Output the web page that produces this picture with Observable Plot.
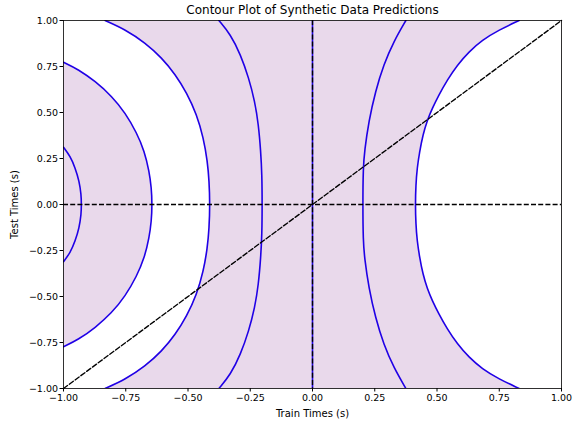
<!DOCTYPE html>
<html><head><meta charset="utf-8">
<script src="https://cdn.jsdelivr.net/npm/d3@7"></script>
<script src="https://cdn.jsdelivr.net/npm/@observablehq/plot@0.6"></script>
<style>body{margin:0;background:#fff}</style>
</head><body><div id="chart"></div>
<script>
const title = "Contour Plot of Synthetic Data Predictions";
const xLabel = "Train Times (s)";
const yLabel = "Test Times (s)";
const xTicks = [-1, -0.75, -0.5, -0.25, 0, 0.25, 0.5, 0.75, 1];
const yTicks = [-1, -0.75, -0.5, -0.25, 0, 0.25, 0.5, 0.75, 1];

// contour lines, [x, y] ordered from bottom to top
const contourA = [[-1,-0.311],[-0.973,-0.262],[-0.953,-0.199],[-0.937,-0.127],[-0.929,-0.054],[-0.928,0],
  [-0.929,0.054],[-0.937,0.127],[-0.953,0.199],[-0.973,0.262],[-1,0.311]];
const contourB = [[-1,-0.773],[-0.94,-0.734],[-0.873,-0.67],[-0.806,-0.589],[-0.752,-0.498],[-0.706,-0.39],[-0.675,-0.29],[-0.656,-0.181],[-0.647,-0.091],[-0.644,0],
  [-0.647,0.091],[-0.656,0.181],[-0.675,0.29],[-0.706,0.39],[-0.752,0.498],[-0.806,0.589],[-0.873,0.67],[-0.94,0.734],[-1,0.773]];
const contourC = [[-0.833,-1],[-0.752,-0.951],[-0.672,-0.879],[-0.605,-0.797],[-0.551,-0.707],[-0.505,-0.607],[-0.465,-0.489],[-0.438,-0.362],[-0.422,-0.236],[-0.415,-0.127],[-0.412,0],
  [-0.415,0.127],[-0.422,0.236],[-0.438,0.362],[-0.465,0.489],[-0.505,0.607],[-0.551,0.707],[-0.605,0.797],[-0.672,0.879],[-0.752,0.951],[-0.833,1]];
const contourD = [[-0.376,-1],[-0.329,-0.924],[-0.289,-0.815],[-0.256,-0.688],[-0.232,-0.562],[-0.217,-0.435],[-0.208,-0.29],[-0.203,-0.163],[-0.202,0],
  [-0.203,0.163],[-0.208,0.29],[-0.217,0.435],[-0.232,0.562],[-0.256,0.688],[-0.289,0.815],[-0.329,0.924],[-0.376,1]];
const contourE = [[0,-1],[0,1]];
const contourF = [[0.375,-1],[0.327,-0.888],[0.286,-0.761],[0.253,-0.616],[0.226,-0.453],[0.209,-0.29],[0.2035,-0.199],[0.202,0],
  [0.2035,0.199],[0.209,0.29],[0.226,0.453],[0.253,0.616],[0.286,0.761],[0.327,0.888],[0.375,1]];
const contourG = [[0.83,-1],[0.748,-0.948],[0.681,-0.893],[0.628,-0.83],[0.581,-0.757],[0.541,-0.676],[0.507,-0.594],[0.481,-0.522],[0.461,-0.458],[0.443,-0.377],[0.43,-0.286],[0.42,-0.196],[0.415,-0.105],[0.413,0],
  [0.415,0.105],[0.42,0.196],[0.43,0.286],[0.443,0.377],[0.461,0.458],[0.481,0.522],[0.507,0.594],[0.541,0.676],[0.581,0.757],[0.628,0.83],[0.681,0.893],[0.748,0.948],[0.83,1]];
const contours = [contourA, contourB, contourC, contourD, contourE, contourF, contourG];

const xMin = -1, xMax = 1;
const refH = [0];
const refV = [0];
const diagonal = [[-1,-1],[1,1]];

const fillColor = "#e9d9eb";
const lineColor = "#2000e6";
const dash = "5,2.2";
const curve = "basis";

const px = d => d[0], py = d => d[1];
const lineMarks = contours.map(c => Plot.line(c, {x: px, y: py, stroke: lineColor, strokeWidth: 1.6, curve, clip: true}));

const chart = Plot.plot({
  width: 574, height: 423,
  marginLeft: 63, marginRight: 13, marginTop: 20, marginBottom: 35,
  style: {fontFamily: "DejaVu Sans, sans-serif", fontSize: "9.5px", color: "black", background: "white"},
  x: {domain: [xMin, xMax]},
  y: {domain: [-1, 1]},
  marks: [
    Plot.frame({fill: fillColor, stroke: "none"}),
    // unfilled band between contours B and C (left) and beyond contour G (right)
    Plot.areaX(contourC, {x1: xMin, x2: px, y: py, fill: "white", curve, clip: true}),
    Plot.areaX(contourB, {x1: xMin, x2: px, y: py, fill: fillColor, curve, clip: true}),
    Plot.areaX(contourG, {x1: px, x2: xMax, y: py, fill: "white", curve, clip: true}),
    ...lineMarks,
    Plot.ruleY(refH, {stroke: "black", strokeWidth: 1.35, strokeDasharray: dash}),
    Plot.ruleX(refV, {stroke: "black", strokeWidth: 1.35, strokeDasharray: dash}),
    Plot.line(diagonal, {x: px, y: py, stroke: "black", strokeWidth: 1.35, strokeDasharray: dash}),
    Plot.frame({stroke: "black", strokeWidth: 0.8}),
    Plot.axisX({ticks: xTicks, tickFormat: d3.format(".2f"), tickSize: 3.5, tickPadding: 2, label: null, fontSize: 9.5}),
    Plot.axisY({ticks: yTicks, tickFormat: d3.format(".2f"), tickSize: 3.5, tickPadding: 2, label: null, fontSize: 9.5}),
    Plot.text([title], {frameAnchor: "top", lineAnchor: "middle", textAnchor: "middle", dy: -10, fontSize: 12, fill: "black"}),
    Plot.text([xLabel], {frameAnchor: "bottom", lineAnchor: "middle", textAnchor: "middle", dy: 25, fontSize: 10, fill: "black"}),
    Plot.text([yLabel], {frameAnchor: "left", lineAnchor: "middle", textAnchor: "middle", dx: -49, rotate: -90, fontSize: 10, fill: "black"})
  ]
});
document.getElementById("chart").appendChild(chart);
</script>
</body></html>
